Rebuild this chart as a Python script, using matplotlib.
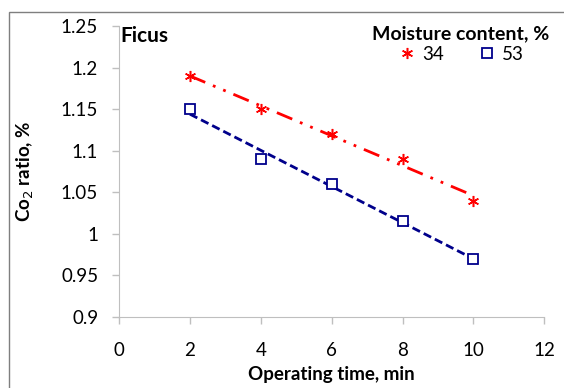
import matplotlib.pyplot as plt
import matplotlib.patches as patches
import numpy as np

plt.rcParams['font.family'] = ['Lato', 'DejaVu Sans']

# data
time_min = [2, 4, 6, 8, 10]
ratio_34 = [1.19, 1.15, 1.12, 1.09, 1.04]
ratio_53 = [1.15, 1.09, 1.06, 1.015, 0.97]
x_ticks = [0, 2, 4, 6, 8, 10, 12]
y_ticks = [0.9, 0.95, 1.0, 1.05, 1.1, 1.15, 1.2, 1.25]
y_tick_labels = ['0.9', '0.95', '1', '1.05', '1.1', '1.15', '1.2', '1.25']

fig = plt.figure(figsize=(5.64, 3.88), dpi=100)
ax = fig.add_axes([0.211, 0.183, 0.754, 0.75])

# chart area border
fig.patches.append(patches.Rectangle((9 / 564, -0.1), 1.2, 1 - 12 / 388 + 0.1,
                                     transform=fig.transFigure, fill=False,
                                     edgecolor='#7f7f7f', linewidth=1.0))

x = np.array(time_min)
# linear trend lines
p34 = np.polyfit(x, ratio_34, 1)
p53 = np.polyfit(x, ratio_53, 1)
ax.plot(x, np.polyval(p34, x), color='red', linewidth=2,
        dashes=(6, 3, 1, 3, 1, 3))
ax.plot(x, np.polyval(p53, x), color='#00008B', linewidth=2, dashes=(3, 1.5))

ax.plot(x, ratio_34, linestyle='none', marker=(6, 2, 0), markersize=8,
        markeredgewidth=1.1, color='red', label='34')
ax.plot(x, ratio_53, linestyle='none', marker='s', markersize=7,
        markerfacecolor='white', markeredgewidth=1.3, color='#00008B', label='53')

ax.set_xlim(0, 12)
ax.set_ylim(0.9, 1.25)
ax.set_xticks(x_ticks)
ax.set_yticks(y_ticks)
ax.set_yticklabels(y_tick_labels)
ax.tick_params(labelsize=13.5, color='#bfbfbf', length=5, width=1)
ax.tick_params(axis='y', pad=10)
ax.tick_params(axis='x', pad=13)
for s in ['top', 'right']:
    ax.spines[s].set_visible(False)
for s in ['left', 'bottom']:
    ax.spines[s].set_color('#bfbfbf')

ax.set_xlabel('Operating time, min', fontsize=13.5, fontweight='bold', labelpad=5)
ax.set_ylabel('Co$_2$ ratio, %', fontsize=13.5, fontweight='bold')
ax.yaxis.set_label_coords(-0.195, 0.5)

ax.text(0.05, 1.25, 'Ficus', fontsize=15, fontweight='bold', va='top', ha='left')

leg = ax.legend(title='Moisture content, %', ncol=2, frameon=False,
                fontsize=13.5, loc='upper right', bbox_to_anchor=(1.03, 1.03),
                handletextpad=0.3, columnspacing=1.8, borderaxespad=0,
                handlelength=1.0, labelspacing=0.2,
                title_fontproperties={'weight': 'bold', 'size': 14})
leg._legend_box.align = 'center'

fig.savefig('out.png', dpi=100)
